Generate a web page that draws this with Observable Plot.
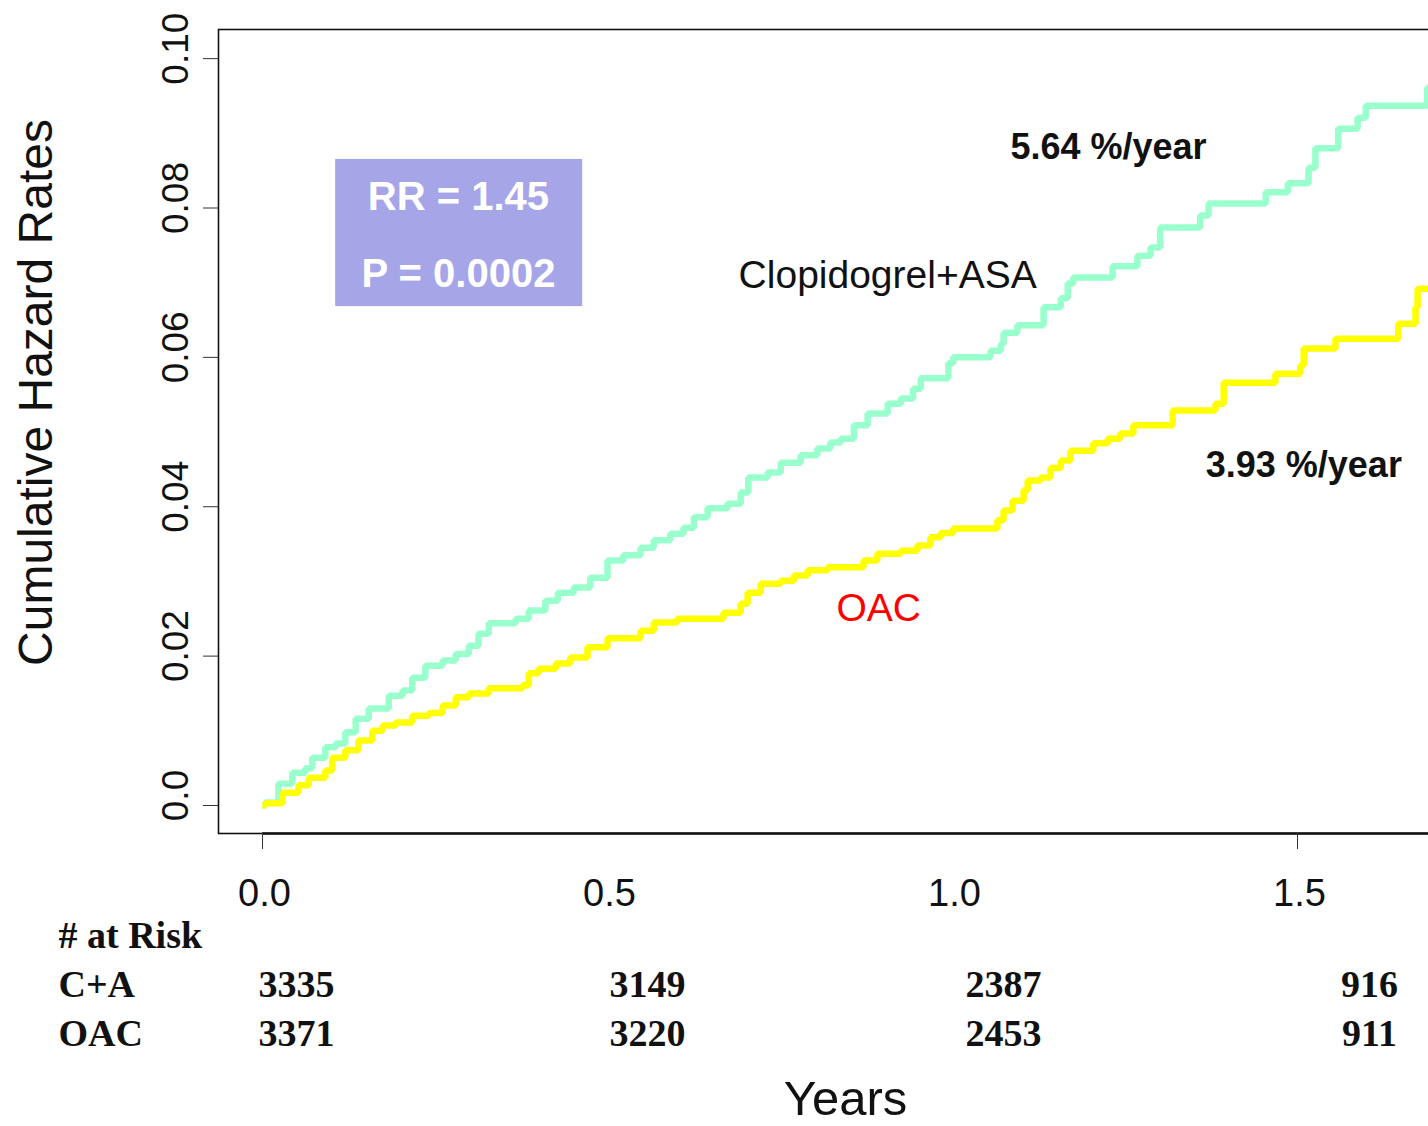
<!DOCTYPE html>
<html>
<head>
<meta charset="utf-8">
<script src="https://cdn.jsdelivr.net/npm/d3@7"></script>
<script src="https://cdn.jsdelivr.net/npm/@observablehq/plot@0.6"></script>
<style>
  html, body { margin: 0; padding: 0; background: #fff; overflow: hidden; width: 1428px; height: 1126px; }
  #chart { width: 1428px; height: 1126px; overflow: hidden; }
  #chart svg { display: block; max-width: none !important; width: 1500px !important; height: 1126px !important; }
</style>
</head>
<body>
<div id="chart"></div>
<script>
// ---- Data ----
const timeCA = [0, 0.004, 0.023, 0.043, 0.062, 0.072, 0.091, 0.106, 0.120, 0.135, 0.154, 0.183, 0.203, 0.217, 0.236, 0.261, 0.280, 0.299, 0.313, 0.328, 0.367, 0.386, 0.410, 0.428, 0.451, 0.475, 0.500, 0.523, 0.548, 0.567, 0.591, 0.610, 0.625, 0.645, 0.674, 0.693, 0.704, 0.732, 0.751, 0.780, 0.804, 0.823, 0.838, 0.857, 0.877, 0.906, 0.925, 0.943, 0.954, 0.994, 1.001, 1.055, 1.070, 1.074, 1.094, 1.132, 1.157, 1.167, 1.175, 1.232, 1.268, 1.287, 1.301, 1.359, 1.371, 1.454, 1.486, 1.516, 1.526, 1.559, 1.587, 1.599, 1.688, 1.760];
const hazCA = [0, 0.0004, 0.0029, 0.0044, 0.0050, 0.0064, 0.0078, 0.0083, 0.0098, 0.0116, 0.0130, 0.0147, 0.0154, 0.0171, 0.0187, 0.0194, 0.0203, 0.0214, 0.0230, 0.0244, 0.0250, 0.0261, 0.0274, 0.0285, 0.0292, 0.0305, 0.0328, 0.0335, 0.0345, 0.0355, 0.0364, 0.0372, 0.0386, 0.0398, 0.0404, 0.0419, 0.0439, 0.0446, 0.0459, 0.0469, 0.0478, 0.0486, 0.0491, 0.0509, 0.0525, 0.0538, 0.0545, 0.0558, 0.0572, 0.0592, 0.0600, 0.0609, 0.0618, 0.0633, 0.0643, 0.0667, 0.0679, 0.0699, 0.0707, 0.0722, 0.0736, 0.0747, 0.0774, 0.0790, 0.0806, 0.0821, 0.0833, 0.0854, 0.0880, 0.0906, 0.0921, 0.0937, 0.0961, 0.0961];

const timeOAC = [0, 0.004, 0.029, 0.052, 0.067, 0.091, 0.101, 0.120, 0.139, 0.159, 0.174, 0.193, 0.217, 0.241, 0.261, 0.280, 0.299, 0.328, 0.377, 0.386, 0.400, 0.425, 0.446, 0.471, 0.500, 0.548, 0.567, 0.601, 0.668, 0.693, 0.703, 0.722, 0.751, 0.770, 0.790, 0.819, 0.871, 0.891, 0.925, 0.949, 0.968, 0.983, 1.001, 1.065, 1.074, 1.087, 1.103, 1.109, 1.128, 1.142, 1.157, 1.171, 1.204, 1.225, 1.243, 1.262, 1.319, 1.381, 1.393, 1.468, 1.504, 1.509, 1.555, 1.646, 1.671, 1.674, 1.760];
const hazOAC = [0, 0.0003, 0.0017, 0.0027, 0.0037, 0.0047, 0.0064, 0.0074, 0.0087, 0.0100, 0.0107, 0.0111, 0.0120, 0.0124, 0.0134, 0.0145, 0.0150, 0.0157, 0.0161, 0.0177, 0.0183, 0.0190, 0.0198, 0.0212, 0.0224, 0.0234, 0.0245, 0.0250, 0.0258, 0.0270, 0.0285, 0.0297, 0.0301, 0.0308, 0.0315, 0.0319, 0.0328, 0.0337, 0.0341, 0.0348, 0.0359, 0.0365, 0.0371, 0.0382, 0.0395, 0.0408, 0.0422, 0.0435, 0.0439, 0.0452, 0.0462, 0.0475, 0.0485, 0.0491, 0.0498, 0.0509, 0.0529, 0.0538, 0.0566, 0.0578, 0.0589, 0.0612, 0.0625, 0.0645, 0.0667, 0.0692, 0.0692];

const yTickValues = [0, 0.02, 0.04, 0.06, 0.08, 0.10];
const yTickLabels = ["0.0", "0.02", "0.04", "0.06", "0.08", "0.10"];
const xTickValues = [0, 0.5, 1.0, 1.5];
const xTickLabels = ["0.0", "0.5", "1.0", "1.5"];
const xTickMarks = [0, 1.5];

const riskTimes = [0, 0.5, 1.0, 1.5];
const riskGroups = ["C+A", "OAC"];
const riskCA = [3335, 3149, 2387, 916];
const riskOAC = [3371, 3220, 2453, 911];

const rateCA = "5.64 %/year";
const rateOAC = "3.93 %/year";
const statRR = "RR = 1.45";
const statP = "P = 0.0002";

// ---- Build tables ----
const ca = timeCA.map((t, i) => ({t, h: hazCA[i]}));
const oac = timeOAC.map((t, i) => ({t, h: hazOAC[i]}));
const yTicks = yTickValues.map((v, i) => ({v, label: yTickLabels[i]}));
const xTicks = xTickValues.map((v, i) => ({v, label: xTickLabels[i]}));

const sans = "'Liberation Sans', Arial, Helvetica, sans-serif";
const serif = "'Liberation Serif', 'Times New Roman', serif";

const colDx = [34, 40, 51, 72];
const riskMarks = [];
riskTimes.forEach((t, i) => {
  riskMarks.push(Plot.text([riskCA[i]], {x: () => t, frameAnchor: "bottom", lineAnchor: "middle", textAnchor: "middle", dy: 151, dx: colDx[i], text: d => String(d), fontFamily: serif, fontWeight: "bold", fontSize: 38, fill: "#111"}));
  riskMarks.push(Plot.text([riskOAC[i]], {x: () => t, frameAnchor: "bottom", lineAnchor: "middle", textAnchor: "middle", dy: 200, dx: colDx[i], text: d => String(d), fontFamily: serif, fontWeight: "bold", fontSize: 38, fill: "#111"}));
});

const chart = Plot.plot({
  width: 1500,
  height: 1126,
  marginTop: 29,
  marginBottom: 293,
  marginLeft: 218,
  marginRight: 10,
  style: {background: "#fff", fontFamily: sans, overflow: "visible"},
  x: {domain: [-0.0638, 1.7797], axis: null},
  y: {domain: [-0.00375, 0.1039], axis: null},
  marks: [
    // statistics box
    Plot.rect([0], {x1: 0.106, x2: 0.464, y1: 0.0668, y2: 0.0865, fill: "#A5A5E8"}),
    Plot.text([statRR], {x: 0.284, y: 0.0814, text: d => d, fill: "#fff", fontWeight: "bold", fontSize: 40, fontFamily: sans}),
    Plot.text([statP], {x: 0.284, y: 0.0712, text: d => d, fill: "#fff", fontWeight: "bold", fontSize: 40, fontFamily: sans}),
    // curves
    Plot.line(ca, {x: "t", y: "h", curve: "step-after", stroke: "#99FFCC", strokeWidth: 6.5, strokeLinejoin: "miter", strokeLinecap: "butt"}),
    Plot.line(oac, {x: "t", y: "h", curve: "step-after", stroke: "#FFFF00", strokeWidth: 6.5, strokeLinejoin: "miter", strokeLinecap: "butt"}),
    // curve labels
    Plot.text(["Clopidogrel+ASA"], {x: 0.906, y: 0.0709, text: d => d, fontSize: 39, fill: "#111", fontFamily: sans}),
    Plot.text(["OAC"], {x: 0.893, y: 0.0264, text: d => d, fontSize: 39, fill: "#FF0000", fontFamily: sans}),
    Plot.text([rateCA], {x: 1.084, y: 0.0881, text: d => d, textAnchor: "start", fontSize: 36, fontWeight: "bold", fill: "#111", fontFamily: sans}),
    Plot.text([rateOAC], {x: 1.367, y: 0.0455, text: d => d, textAnchor: "start", fontSize: 36, fontWeight: "bold", fill: "#111", fontFamily: sans}),
    // frame and axes
    Plot.frame({stroke: "#111", strokeWidth: 1.6}),
    Plot.ruleY([-0.00375], {x1: 0, x2: 1.7797, stroke: "#111", strokeWidth: 2.5}),
    Plot.axisY(yTickValues, {tickSize: 15, tickFormat: () => "", stroke: "#333", label: null}),
    Plot.axisX(xTickMarks, {tickSize: 16, tickFormat: () => "", stroke: "#333", label: null}),
    Plot.text(yTicks, {y: "v", text: "label", frameAnchor: "left", textAnchor: "middle", lineAnchor: "middle", dx: -42, dy: -10, rotate: -90, fontSize: 37, fill: "#111", fontFamily: sans}),
    Plot.text(xTicks, {x: "v", text: "label", frameAnchor: "bottom", textAnchor: "middle", lineAnchor: "middle", dy: 60, dx: 2, fontSize: 38, fill: "#111", fontFamily: sans}),
    Plot.text(["Cumulative Hazard Rates"], {frameAnchor: "left", textAnchor: "middle", lineAnchor: "middle", dx: -182, dy: -39, rotate: -90, text: d => d, fontSize: 48, fill: "#111", fontFamily: sans}),
    Plot.text(["Years"], {frameAnchor: "bottom", textAnchor: "middle", lineAnchor: "middle", dx: -9, dy: 266, text: d => d, fontSize: 49, fill: "#111", fontFamily: sans}),
    // at-risk table
    Plot.text(["# at Risk"], {frameAnchor: "bottom-left", lineAnchor: "middle", dx: -160, dy: 102, textAnchor: "start", text: d => d, fontFamily: serif, fontWeight: "bold", fontSize: 38, fill: "#111"}),
    Plot.text([riskGroups[0]], {frameAnchor: "bottom-left", lineAnchor: "middle", dx: -160, dy: 151, textAnchor: "start", text: d => d, fontFamily: serif, fontWeight: "bold", fontSize: 38, fill: "#111"}),
    Plot.text([riskGroups[1]], {frameAnchor: "bottom-left", lineAnchor: "middle", dx: -160, dy: 200, textAnchor: "start", text: d => d, fontFamily: serif, fontWeight: "bold", fontSize: 38, fill: "#111"}),
    ...riskMarks
  ]
});
document.getElementById("chart").appendChild(chart);
</script>
</body>
</html>
